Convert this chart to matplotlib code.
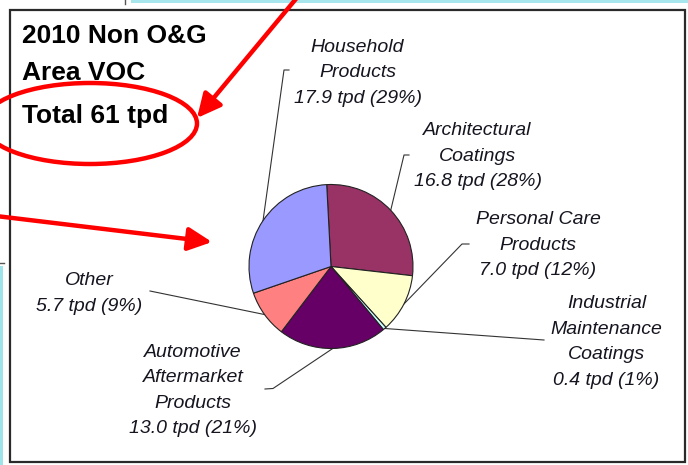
import matplotlib
matplotlib.use("Agg")
import matplotlib.pyplot as plt
from matplotlib.patches import Rectangle, Ellipse
import numpy as np

plt.rcParams['font.family'] = ['Liberation Sans', 'DejaVu Sans']

# data, clockwise from 12 o'clock
categories = ["Architectural\nCoatings", "Personal Care\nProducts",
              "Industrial\nMaintenance\nCoatings", "Automotive\nAftermarket\nProducts",
              "Other", "Household\nProducts"]
tpd = [16.8, 7.0, 0.4, 13.0, 5.7, 17.9]
colors = ["#993366", "#FFFFCC", "#CCFFFF", "#660066", "#FF8080", "#9999FF"]
title_lines = ["2010 Non O&G", "Area VOC", "Total {:.0f} tpd".format(sum(tpd))]

# layout (figure pixels, y down)
pie_center = (331, 266.5)
pie_radius = 82
label_pos = [(477.5, 135), (538, 224), (606.5, 308.3), (193, 356.7), (89, 285), (357.5, 51.7)]
leader_end = [[(404, 155), (409, 155)], [(462, 244), (469, 244)], [(544, 340)],
              [(273, 388.5), (265, 389)], [(150, 291)], [(284, 70), (289, 70)]]
line_step = 25.5

fig = plt.figure(figsize=(6.88, 4.65), dpi=100)
ax = fig.add_axes([0, 0, 1, 1])

# bits of the slide behind the chart
ax.add_patch(Rectangle((131, 0), 557, 3.5, color="#A8E6EE", lw=0))
ax.plot([125, 125], [0, 4], color="#555555", lw=1)
ax.add_patch(Rectangle((0, 266), 3, 199, color="#9EE2EA", lw=0))
ax.plot([0, 3.5], [263, 263], color="#555555", lw=1)

# chart frame
ax.add_patch(Rectangle((9.5, 10.5), 675, 451.5, facecolor="white", edgecolor="#2a2a2a", lw=1.6, zorder=1))

wedges, _ = ax.pie(tpd, colors=colors, startangle=-93, counterclock=True,
                   center=pie_center, radius=pie_radius,
                   wedgeprops=dict(edgecolor="#222222", linewidth=0.8, zorder=3))

total = sum(tpd)
for w, name, v, (lx, ly), ends in zip(wedges, categories, tpd, label_pos, leader_end):
    mid = np.deg2rad((w.theta1 + w.theta2) / 2)
    px = w.center[0] + w.r * np.cos(mid)
    py = w.center[1] + w.r * np.sin(mid)
    xs = [px] + [e[0] for e in ends]
    ys = [py] + [e[1] for e in ends]
    ax.plot(xs, ys, color="#333333", lw=0.8, zorder=2)
    lines = name.split("\n") + ["{:.1f} tpd ({:.0f}%)".format(v, v / total * 100)]
    for i, s in enumerate(lines):
        ax.text(lx, ly + i * line_step, s, ha="center", va="baseline", fontsize=14,
                style="italic", color="#151520", zorder=4)

title_base = [43, 80, 123.3]
for s, y in zip(title_lines, title_base):
    ax.text(22, y, s, ha="left", va="baseline", fontsize=19, fontweight="bold", color="black", zorder=4)

# red callouts
ax.add_patch(Ellipse((90, 123.5), 214, 81, facecolor="none", edgecolor="#FF0000", lw=3.2, zorder=5))
arrow = dict(arrowstyle="-|>,head_length=0.45,head_width=0.22", color="#FF0000", lw=3.2,
             mutation_scale=32, shrinkA=0, shrinkB=0)
ax.annotate("", xy=(197, 118), xytext=(300, -6), arrowprops=arrow, zorder=5)
ax.annotate("", xy=(212, 242), xytext=(-4, 216), arrowprops=arrow, zorder=5)

ax.set_xlim(0, 688)
ax.set_ylim(465, 0)
ax.set_aspect("auto")
ax.axis("off")

fig.savefig("out.png", dpi=100)
